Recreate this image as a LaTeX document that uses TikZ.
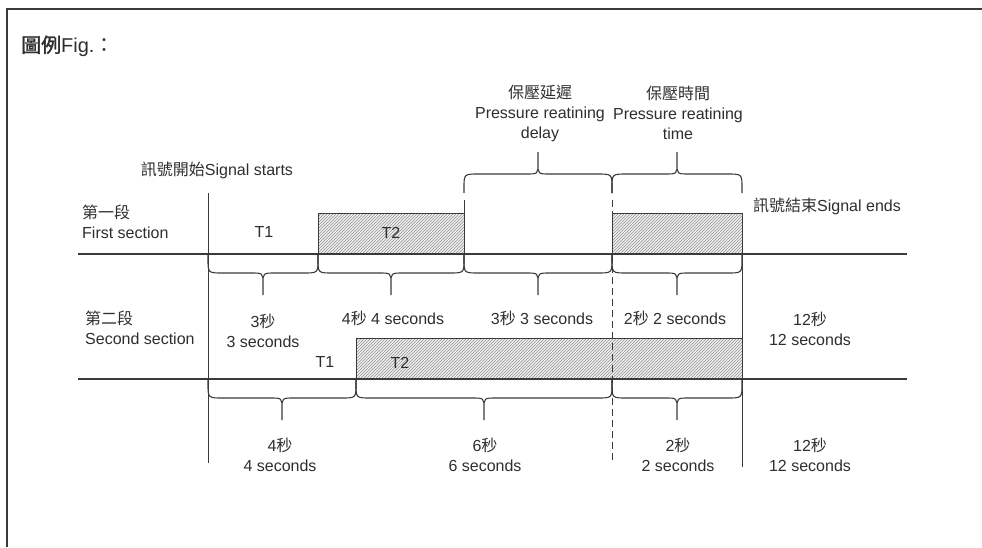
\documentclass[tikz,border=0pt]{standalone}
\usepackage{fontspec}
\setmainfont{Liberation Sans}
\newfontfamily\cjk{Noto Sans CJK TC}
\newfontfamily\cjkbold[FakeBold=1.5]{Noto Sans CJK TC}
\usetikzlibrary{patterns}
\definecolor{ink}{HTML}{2E2E2E}
\definecolor{rule}{HTML}{3A3A3A}
\newcommand{\zh}[1]{{\cjk #1}}
\newcommand{\tbrace}[4]{%
 \pgfmathsetmacro\bxm{(#1+#2)/2}%
 \pgfmathsetmacro\byf{#3+#4*19}%
 \pgfmathsetmacro\bye{#3+#4*5}%
 \pgfmathsetmacro\byt{#3+#4*41}%
 \pgfmathsetmacro\byk{#3+#4*30}%
 \draw[bracestyle] (#1,#3) -- (#1,\bye) .. controls (#1,\byf) .. ({#1+15},\byf) -- ({\bxm-12},\byf) .. controls (\bxm,\byf) .. (\bxm,\byk) -- (\bxm,\byt)
   (\bxm,\byk) .. controls (\bxm,\byf) .. ({\bxm+12},\byf) -- ({#2-15},\byf) .. controls (#2,\byf) .. (#2,\bye) -- (#2,#3);%
}
\begin{document}
\begin{tikzpicture}[x=1pt,y=-1pt,
  txt/.style={text=ink,font=\fontsize{16}{20}\selectfont,inner sep=0pt,align=center},
  bracestyle/.style={draw=rule,line width=1.1pt},
  axis/.style={draw=rule,line width=1.6pt},
  vline/.style={draw=rule,line width=1pt},
  hatch/.style={draw=rule,line width=0.8pt,preaction={fill=gray!12},pattern=north east lines,pattern color=gray!85},
  frame/.style={draw=rule,line width=2.6pt}]
\useasboundingbox (0,0) rectangle (982,547);
% frame
\draw[frame] (7,547) -- (7,9) -- (982,9);
% hatched boxes
\draw[hatch] (318,213) rectangle (464,254);
\draw[hatch] (612,213) rectangle (742,254);
\draw[hatch] (356,338) rectangle (742,379);
% axes
\draw[axis] (78,254) -- (907,254);
\draw[axis] (78,379) -- (907,379);
% verticals
\draw[vline] (208,193) -- (208,463);
\draw[vline] (742,213) -- (742,467);
\draw[vline] (464,200) -- (464,213);
\draw[vline,dashed,dash pattern=on 7pt off 4pt] (612,200) -- (612,463);
% braces
\tbrace{464}{612}{193}{-1}
\tbrace{612}{742}{193}{-1}
\tbrace{208}{318}{254}{1}
\tbrace{318}{464}{254}{1}
\tbrace{464}{612}{254}{1}
\tbrace{612}{742}{254}{1}
\tbrace{208}{356}{379}{1}
\tbrace{356}{612}{379}{1}
\tbrace{612}{742}{379}{1}
% texts
\node[txt,anchor=west,font=\fontsize{20}{24}\selectfont] (title) at (21,46) {{\cjkbold 圖例}Fig.\zh{：}};
\node[txt] (start) at (217,170) {\zh{訊號開始}Signal starts};
\node[txt,anchor=west,align=left] (sec1) at (82,222) {\zh{第一段}\\First section};
\node[txt,anchor=west,align=left] (sec2) at (85,328) {\zh{第二段}\\Second section};
\node[txt] (t1a) at (264,232) {T1};
\node[txt] (t2a) at (391,233) {T2};
\node[txt] (t1b) at (325,362) {T1};
\node[txt] (t2b) at (400,363) {T2};
\node[txt] (delay) at (540,113) {\zh{保壓延遲}\\Pressure reatining\\delay};
\node[txt] (hold) at (678,113) {\zh{保壓時間}\\Pressure reatining\\time};
\node[txt,anchor=west] (end) at (753,206) {\zh{訊號結束}Signal ends};
\node[txt] (a3) at (263,331) {3\zh{秒}\\3 seconds};
\node[txt] (a4) at (393,318) {4\zh{秒} 4 seconds};
\node[txt] (a3b) at (542,318) {3\zh{秒} 3 seconds};
\node[txt] (a2) at (675,318) {2\zh{秒} 2 seconds};
\node[txt] (a12) at (810,329) {12\zh{秒}\\12 seconds};
\node[txt] (b4) at (280,455) {4\zh{秒}\\4 seconds};
\node[txt] (b6) at (485,455) {6\zh{秒}\\6 seconds};
\node[txt] (b2) at (678,455) {2\zh{秒}\\2 seconds};
\node[txt] (b12) at (810,455) {12\zh{秒}\\12 seconds};
\end{tikzpicture}
\end{document}
